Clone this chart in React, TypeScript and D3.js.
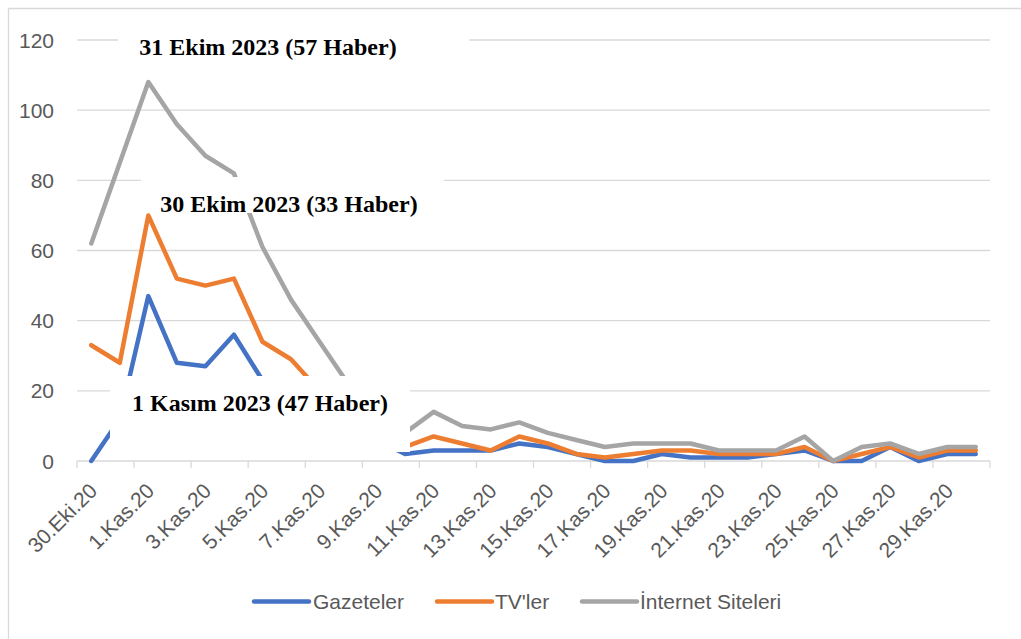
import React from "react";
import * as d3 from "d3";

// ---- data ----
const dates: string[] = [
  "30.Eki.20", "31.Eki.20",
  "1.Kas.20", "2.Kas.20", "3.Kas.20", "4.Kas.20", "5.Kas.20", "6.Kas.20", "7.Kas.20", "8.Kas.20",
  "9.Kas.20", "10.Kas.20", "11.Kas.20", "12.Kas.20", "13.Kas.20", "14.Kas.20", "15.Kas.20", "16.Kas.20",
  "17.Kas.20", "18.Kas.20", "19.Kas.20", "20.Kas.20", "21.Kas.20", "22.Kas.20", "23.Kas.20", "24.Kas.20",
  "25.Kas.20", "26.Kas.20", "27.Kas.20", "28.Kas.20", "29.Kas.20", "30.Kas.20",
];
const gazeteler: number[] = [0, 12, 47, 28, 27, 36, 23, 16, 11, 8, 6, 2, 3, 3, 3, 5, 4, 2, 0, 0, 2, 1, 1, 1, 2, 3, 0, 0, 4, 0, 2, 2];
const tvler: number[] = [33, 28, 70, 52, 50, 52, 34, 29, 20, 12, 7, 4, 7, 5, 3, 7, 5, 2, 1, 2, 3, 3, 2, 2, 2, 4, 0, 2, 4, 1, 3, 3];
const internet: number[] = [62, 85, 108, 96, 87, 82, 61, 46, 34, 22, 14, 8, 14, 10, 9, 11, 8, 6, 4, 5, 5, 5, 3, 3, 3, 7, 0, 4, 5, 2, 4, 4];
const seriesNames: string[] = ["Gazeteler", "TV'ler", "İnternet Siteleri"];
const yTicks: number[] = [0, 20, 40, 60, 80, 100, 120];
const annotations: string[] = [
  "31 Ekim 2023 (57 Haber)",
  "30 Ekim 2023 (33 Haber)",
  "1 Kasım 2023 (47 Haber)",
];

// ---- layout / style ----
const W = 1021;
const H = 639;
const colors = ["#4472C4", "#ED7D31", "#A5A5A5"];
const gridColor = "#D9D9D9";
const textColor = "#595959";
const sans = "'Liberation Sans', Arial, sans-serif";
const serif = "'Liberation Serif', 'Times New Roman', serif";
const annoBoxes = [
  { x0: 118, x1: 469, y0: 24, y1: 68, cx: 268, base: 55 },
  { x0: 141, x1: 444, y0: 177, y1: 213, cx: 289, base: 212 },
  { x0: 110, x1: 410, y0: 376, y1: 452, cx: 260, base: 411 },
];
const legendItems = [
  { l0: 254, l1: 309, tx: 313 },
  { l0: 437, l1: 492, tx: 495 },
  { l0: 582, l1: 637, tx: 640 },
];

export default function App() {
  const x = d3.scaleBand<string>().domain(dates).range([77, 990]).padding(0);
  const y = d3.scaleLinear().domain([0, 120]).range([461, 40]);
  const bw = x.bandwidth();
  const cx = (d: string) => (x(d) as number) + bw / 2;
  const series = [gazeteler, tvler, internet];
  const line = (vals: number[]) =>
    d3.line<number>()
      .x((_, i) => cx(dates[i]))
      .y((v) => y(v))(vals) as string;

  const tickXs = dates.filter((_, i) => i % 2 === 0).map((d) => x(d) as number).concat([990]);

  return (
    <svg width={W} height={H} style={{ position: "absolute", left: 0, top: 0, background: "#fff" }}>
      <rect x={0} y={0} width={W} height={H} fill="#fff" />
      {/* outer frame (left/top visible) */}
      <line x1={8.5} y1={8.5} x2={W} y2={8.5} stroke={gridColor} strokeWidth={1.3} />
      <line x1={8.5} y1={8.5} x2={8.5} y2={H} stroke={gridColor} strokeWidth={1.3} />

      {/* gridlines */}
      {yTicks.map((t) => (
        <line key={t} x1={77} x2={990} y1={y(t)} y2={y(t)} stroke={gridColor} strokeWidth={1.3} />
      ))}
      {/* ticks */}
      {tickXs.map((tx, i) => (
        <line key={i} x1={tx} x2={tx} y1={y(0)} y2={y(0) + 7} stroke={gridColor} strokeWidth={1.3} />
      ))}

      {/* y labels */}
      {yTicks.map((t) => (
        <text key={t} x={54} y={y(t) + 7.5} textAnchor="end" fontFamily={sans} fontSize={21} fill={textColor}>
          {t}
        </text>
      ))}

      {/* x labels */}
      {dates.map((d, i) =>
        i % 2 === 0 ? (
          <text
            key={d}
            transform={`translate(${cx(d) + 2},${487}) rotate(-45)`}
            textAnchor="end"
            dy="0.35em"
            fontFamily={sans}
            fontSize={21}
            fill={textColor}
          >
            {d}
          </text>
        ) : null
      )}

      {/* series */}
      {series.map((vals, k) => (
        <path
          key={k}
          d={line(vals)}
          fill="none"
          stroke={colors[k]}
          strokeWidth={4.5}
          strokeLinejoin="round"
          strokeLinecap="round"
        />
      ))}

      {/* annotation boxes */}
      {annotations.map((a, k) => {
        const b = annoBoxes[k];
        return (
          <g key={k}>
            <rect x={b.x0} y={b.y0} width={b.x1 - b.x0} height={b.y1 - b.y0} fill="#fff" />
            <text x={b.cx} y={b.base} textAnchor="middle" fontFamily={serif} fontWeight="bold" fontSize={24} fill="#000">
              {a}
            </text>
          </g>
        );
      })}

      {/* legend */}
      {seriesNames.map((n, k) => (
        <g key={n}>
          <line
            x1={legendItems[k].l0}
            x2={legendItems[k].l1}
            y1={601.5}
            y2={601.5}
            stroke={colors[k]}
            strokeWidth={4.5}
            strokeLinecap="round"
          />
          <text x={legendItems[k].tx} y={609} fontFamily={sans} fontSize={21} fill={textColor}>
            {n}
          </text>
        </g>
      ))}
    </svg>
  );
}
